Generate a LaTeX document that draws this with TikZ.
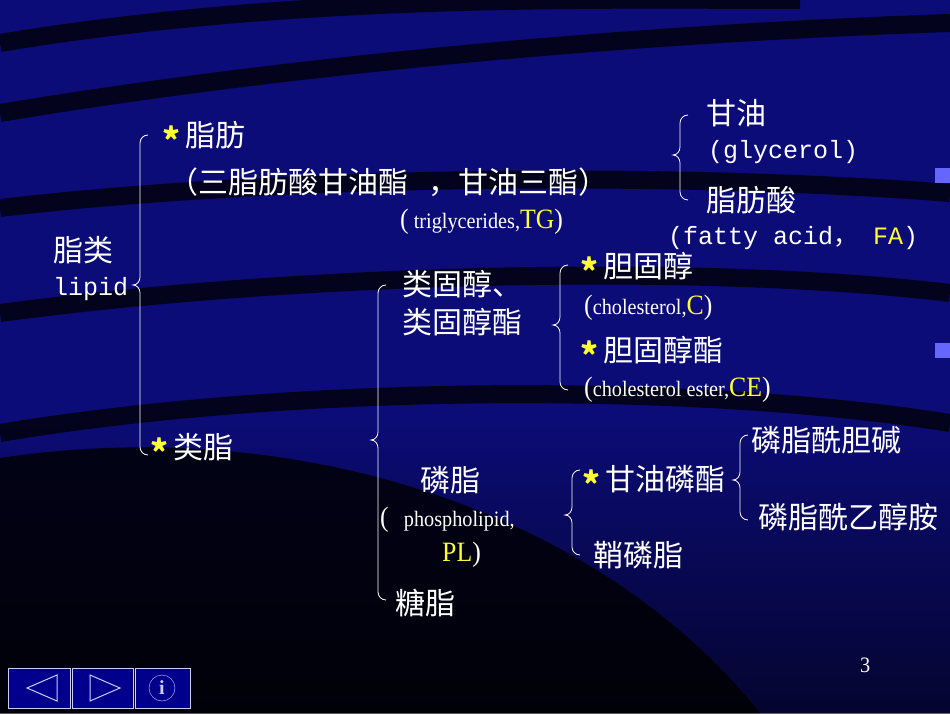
\documentclass[tikz,border=0pt]{standalone}
\usepackage{fontspec}
\setmainfont{Liberation Serif}
\newfontfamily\cjk{Noto Sans CJK SC}
\newfontfamily\mono{Liberation Mono}
\newfontfamily\narrow[FakeStretch=0.92]{Liberation Serif}
\newcommand\mybrace[4]{%
 \draw[bracel] ({#1+8},{713-#2}) to[out=180,in=90] (#1,{713-#2-8}) -- (#1,{713-#3+8}) to[out=-90,in=0] ({#1-7},{713-#3})
   to[out=0,in=90] (#1,{713-#3-8}) -- (#1,{713-#4+8}) to[out=-90,in=180] ({#1+8},{713-#4});}
\newcommand\ystar{\raisebox{-7pt}{\fontsize{34}{30}\selectfont\bfseries\color{yl}*}\,}
\newcommand\bigt[1]{{\fontsize{28}{28}\selectfont #1}}
\definecolor{bg}{HTML}{0C0C78}
\definecolor{yl}{HTML}{FFFF33}
\begin{document}
\begin{tikzpicture}[x=1pt,y=1pt,
 bracel/.style={white,line width=0.8pt},
 cn/.style={anchor=west,text=white,font=\cjk\fontsize{30}{30}\selectfont,inner sep=0pt},
 mn/.style={anchor=west,text=white,font=\mono\fontsize{25}{26}\selectfont,inner sep=0pt},
 sm/.style={anchor=west,text=white,font=\narrow\fontsize{22}{22}\selectfont,inner sep=0pt},
 as/.style={anchor=west,inner sep=0pt},
 navbox/.style={draw=white!80!blue,fill=blue!55!black,line width=1pt}]
\useasboundingbox (0,0) rectangle (950,713);
\fill[bg] (0,0) rectangle (950,713);
\shade[top color=bg,bottom color=black,opacity=0.6] (0,0) rectangle (950,300);
\begin{scope}[line width=18pt,black,opacity=0.75]
\draw (0,670) .. controls (300,720) and (600,713) .. (800,713);
\draw (0,600) .. controls (300,650) and (650,680) .. (950,690);
\draw (0,505) .. controls (300,540) and (700,540) .. (950,520);
\draw (0,400) .. controls (300,440) and (700,450) .. (950,420);
\draw (0,280) .. controls (300,330) and (700,330) .. (950,290);
\end{scope}
\fill[black,opacity=0.8] (0,0) -- (0,255) .. controls (300,300) and (600,200) .. (760,0) -- cycle;
\fill[blue!60!white] (935,530) rectangle (950,545);
\fill[blue!60!white] (935,355) rectangle (950,370);
\mybrace{140}{135}{285}{455}
\mybrace{680}{115}{155}{200}
\mybrace{378}{285}{440}{600}
\mybrace{560}{265}{325}{390}
\mybrace{572}{470}{515}{555}
\mybrace{740}{435}{480}{520}
\node[cn] (lipcn) at (53,{713-250}) {脂类};
\node[mn] (lip) at (53,{713-289}) {lipid};
\node[cn] (fat) at (162,{713-137}) {\ystar 脂肪};
\node[cn] (tg) at (168,{713-182}) {（三脂肪酸甘油酯\ \ \ ，甘油三酯）};
\node[sm] (tgen) at (400,{713-222}) {\bigt{(} triglycerides,\bigt{\color{yl}TG}\bigt{)}};
\node[cn] (gly) at (706,{713-113}) {甘油};
\node[mn] (glyen) at (708,{713-152}) {(glycerol)};
\node[cn] (fa) at (706,{713-200}) {脂肪酸};
\node[mn] (faen) at (668,{713-238}) {(fatty acid{\cjk ，} \textcolor{yl}{FA})};
\node[cn] (st1) at (402,{713-284}) {类固醇、};
\node[cn] (st2) at (402,{713-322}) {类固醇酯};
\node[cn] (ch) at (580,{713-268}) {\ystar 胆固醇};
\node[sm] (chen) at (584,{713-308}) {\bigt{(}cholesterol,\bigt{\color{yl}C}\bigt{)}};
\node[cn] (ce) at (580,{713-352}) {\ystar 胆固醇酯};
\node[sm] (ceen) at (584,{713-390}) {\bigt{(}cholesterol ester,\bigt{\color{yl}CE}\bigt{)}};
\node[cn] (lz) at (150,{713-449}) {\ystar 类脂};
\node[cn] (pl) at (420,{713-480}) {磷脂};
\node[sm] (plen) at (380,{713-520}) {\bigt{(}\ \ \ phospholipid,};
\node[sm] (plab) at (442,{713-555}) {\bigt{\color{yl}PL}\bigt{)}};
\node[cn] (gp) at (582,{713-481}) {\ystar 甘油磷酯};
\node[cn] (sm) at (593,{713-555}) {鞘磷脂};
\node[cn] (pc) at (751,{713-440}) {磷脂酰胆碱};
\node[cn] (pe) at (758,{713-517}) {磷脂酰乙醇胺};
\node[cn] (gl) at (395,{713-603}) {糖脂};
\node[sm] (pg) at (860,{713-665}) {3};
\draw[navbox] (8,5) rectangle (70,45);
\draw[navbox] (72,5) rectangle (133,45);
\draw[navbox] (135,5) rectangle (190,45);
\draw[white!80!blue,line width=1pt] (57,12) -- (27,25) -- (57,38) -- cycle;
\draw[white!80!blue,line width=1pt] (90,12) -- (120,25) -- (90,38) -- cycle;
\node[draw=white!80!blue,circle,minimum size=26pt,inner sep=0pt,text=white!80!blue,font=\bfseries\fontsize{20}{20}\selectfont] (info) at (162,25) {i};
\end{tikzpicture}
\end{document}
